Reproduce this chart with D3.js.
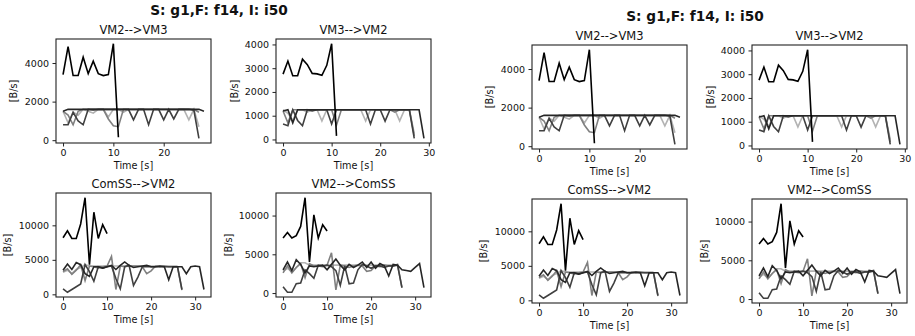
<!DOCTYPE html>
<html>
<head>
<meta charset="utf-8">
<script src="https://cdn.jsdelivr.net/npm/d3@7"></script>
<style>
  html, body { margin: 0; padding: 0; background: #fff; }
  svg text { font-family: "DejaVu Sans", sans-serif; fill: #111; }
</style>
</head>
<body>
<script>
const width = 915;
const height = 336;

const figTitle = "S: g1,F: f14, I: i50";
const panelTitles = ["VM2-->VM3", "VM3-->VM2", "ComSS-->VM2", "VM2-->ComSS"];

// values per second, index = time [s]
const vm2vm3A = [3400, 4850, 3350, 3350, 4300, 3450, 4100, 3450, 3350, 3400, 5000, 150];
const vm2vm3B = [1500, 1600, 1600, 1600, 1600, 1600, 1600, 1600, 1600, 1600, 1600, 1600, 1600, 1600, 1600, 1600, 1600, 1600, 1600, 1600, 1600, 1600, 1600, 1600, 1600, 1600, 1600, 1600, 1500];
const vm2vm3C = [800, 800, 1450, 1000, 800, 1600, 1600, 1600, 1600, 1600, 1600, 1600, 1600, 1600, 1050, 1600, 1600, 800, 1600, 1600, 1050, 1600, 1100, 1600, 1600, 1600, 1550, 100];
const vm2vm3D = [1500, 1300, 800, 1500, 1600, 1600, 1550, 1600, 1600, 1100, 750, 700, 1600, 1600, 1600, 1600, 1600, 1600, 1600, 1600, 1600, 1600, 1600, 1600, 1600, 1600, 1600, 1450];
const vm2vm3E = [1500, 900, 1450, 1300, 1600, 1500, 1400, 1600, 1600, 1200, 1600, 1600, 1450, 1600, 1600, 1600, 1600, 1600, 1600, 1600, 1600, 1600, 1600, 1600, 1600, 1050, 1600, 700];

const vm3vm2A = [2750, 3300, 2680, 2680, 3380, 3150, 2780, 2760, 2700, 3120, 4030, 150];
const vm3vm2B = [1200, 1250, 700, 1250, 1250, 1250, 1250, 1250, 1250, 1250, 1250, 1250, 1250, 1250, 1250, 1250, 1250, 1250, 1250, 1250, 1250, 1250, 1250, 1250, 1250, 1250, 1250, 1250, 1250, 50];
const vm3vm2C = [650, 580, 1250, 800, 580, 1250, 1200, 1250, 1250, 1250, 650, 1250, 1250, 1250, 1250, 1250, 1250, 1250, 650, 1250, 1250, 770, 1250, 1250, 1250, 1250, 1250, 50];
const vm3vm2D = [1200, 700, 1250, 1250, 1250, 1250, 1250, 1250, 1250, 1250, 1250, 600, 1250, 1250, 1250, 1250, 1250, 1250, 1250, 1250, 1250, 1250, 1250, 1150, 1250, 1250, 1250, 150];
const vm3vm2E = [1250, 1100, 800, 1250, 1250, 1150, 1250, 1250, 780, 1250, 1250, 1250, 1250, 1250, 1250, 1250, 1250, 780, 1250, 1250, 1250, 1250, 1250, 1250, 780, 1250, 1250, 250];

const comvm2A = [8200, 9200, 8100, 8100, 10200, 14000, 4300, 11900, 8100, 10100, 8800];
const comvm2B = [3500, 4400, 3600, 4600, 4300, 3000, 2600, 4000, 4000, 3800, 4000, 4200, 3600, 4200, 4700, 4200, 3900, 4000, 4100, 4200, 4000, 4000, 4100, 4000, 2100, 4000, 4000, 4000, 3000, 4000, 4100, 4000, 700];
const comvm2C = [800, 300, 700, 1100, 1500, 4300, 3300, 1900, 4000, 3800, 4000, 4100, 2300, 800, 4000, 4200, 1300, 2500, 4000, 4000, 4000, 4000, 4000, 4000, 4000, 4000, 4000, 700];
const comvm2D = [3300, 3700, 2900, 3500, 4300, 2000, 4100, 4000, 3800, 4000, 4100, 5500, 700, 4100, 4000, 4100, 4100, 4100, 4000, 3000, 3400, 4100, 4000, 4100, 4000, 4000, 4000, 600];
const comvm2E = [3200, 3500, 3000, 3600, 3900, 4300, 4100, 4100, 4100, 4100, 4100, 4100, 4100, 4100, 4100, 4100, 4100, 4100, 4100, 4100, 4100, 4100, 4100, 4100, 4100, 4100, 4100];

const vm2comA = [7100, 7800, 7100, 7400, 8600, 12300, 4000, 10100, 7100, 8800, 8000];
const vm2comB = [3000, 4000, 2900, 4300, 3700, 2600, 3500, 3400, 3500, 3600, 3000, 3700, 4400, 3600, 3000, 3700, 3300, 3600, 4000, 3300, 4000, 3200, 3800, 3500, 2200, 3700, 3600, 3000, 2900, 2800, 3300, 3800, 700];
const vm2comC = [800, 100, 100, 1200, 1300, 3000, 2500, 1900, 3600, 3500, 3600, 3400, 2900, 1000, 3500, 1200, 1300, 3000, 3700, 3500, 3200, 3500, 3500, 3300, 3500, 3500, 3600, 700];
const vm2comD = [2600, 3500, 2600, 3300, 3800, 2000, 3800, 3500, 3500, 3400, 3600, 5200, 400, 3600, 3500, 3300, 3500, 3600, 3500, 2800, 2900, 3500, 3400, 3600, 3500, 3500, 3700, 700];
const vm2comE = [2800, 3200, 2700, 3300, 3900, 3900, 3600, 3600, 3600, 3600, 3600, 3600, 3600, 3600, 3600, 3600, 3600, 3600, 3600, 3600, 3600, 3600, 3600, 3600, 3600, 3600, 3600];

const xTicksVM2VM3 = [0, 10, 20];
const xTicksOther = [0, 10, 20, 30];
const yTicksVM2VM3 = [0, 2000, 4000];
const yTicksVM3VM2 = [0, 1000, 2000, 3000, 4000];
const yTicksComSS = [0, 5000, 10000];

// light to dark, black drawn last
const seriesColors = ["#b3b3b3", "#808080", "#404040", "#262626", "#000000"];

const panels = [
  { title: panelTitles[0], series: [vm2vm3E, vm2vm3D, vm2vm3C, vm2vm3B, vm2vm3A], xTicks: xTicksVM2VM3, yTicks: yTicksVM2VM3 },
  { title: panelTitles[1], series: [vm3vm2E, vm3vm2D, vm3vm2C, vm3vm2B, vm3vm2A], xTicks: xTicksOther, yTicks: yTicksVM3VM2 },
  { title: panelTitles[2], series: [comvm2E, comvm2D, comvm2C, comvm2B, comvm2A], xTicks: xTicksOther, yTicks: yTicksComSS },
  { title: panelTitles[3], series: [vm2comE, vm2comD, vm2comC, vm2comB, vm2comA], xTicks: xTicksOther, yTicks: yTicksComSS },
];

// panel boxes in figure coordinates
const boxes = [
  { x: 56, y: 39, w: 155, h: 104, ylab: 42 },
  { x: 276, y: 39, w: 155, h: 104, ylab: 41 },
  { x: 56, y: 193, w: 155, h: 104, ylab: 48 },
  { x: 276, y: 193, w: 155, h: 104, ylab: 47 },
];

const svg = d3.select("body").append("svg")
  .attr("width", width)
  .attr("height", height);

// matplotlib style autoscale: 5% margin each side
function padded(lo, hi) {
  const r = hi - lo;
  return [lo - 0.05 * r, hi + 0.05 * r];
}

function drawFigure(fig) {
  fig.append("text")
    .attr("x", 219)
    .attr("y", 14.5)
    .attr("text-anchor", "middle")
    .style("font-size", "13.7px")
    .style("font-weight", "bold")
    .text(figTitle);

  panels.forEach((p, i) => {
    const b = boxes[i];
    const g = fig.append("g");
    const maxT = d3.max(p.series, (s) => s.length - 1);
    const allVals = p.series.flat();

    const x = d3.scaleLinear()
      .domain(padded(0, maxT))
      .range([b.x, b.x + b.w]);
    const y = d3.scaleLinear()
      .domain(padded(d3.min(allVals), d3.max(allVals)))
      .range([b.y + b.h, b.y]);

    const xAxis = d3.axisBottom(x).tickValues(p.xTicks).tickFormat(d3.format("d"))
      .tickSize(3.5).tickPadding(3).tickSizeOuter(0);
    const yAxis = d3.axisLeft(y).tickValues(p.yTicks).tickFormat(d3.format("d"))
      .tickSize(3.5).tickPadding(3.5).tickSizeOuter(0);

    const gx = g.append("g").attr("transform", `translate(0,${b.y + b.h})`).call(xAxis);
    const gy = g.append("g").attr("transform", `translate(${b.x},0)`).call(yAxis);
    [gx, gy].forEach((ax) => {
      ax.select(".domain").remove();
      ax.selectAll(".tick line").attr("stroke", "#222").attr("stroke-width", 1);
      ax.selectAll(".tick text")
        .style("font-family", "DejaVu Sans, sans-serif")
        .style("font-size", "9.5px")
        .attr("fill", "#111");
    });

    const line = d3.line()
      .x((d, j) => x(j))
      .y((d) => y(d));

    g.selectAll("path.series")
      .data(p.series)
      .join("path")
      .attr("class", "series")
      .attr("d", (d) => line(d))
      .attr("fill", "none")
      .attr("stroke", (d, j) => seriesColors[j])
      .attr("stroke-width", 1.6)
      .attr("stroke-linejoin", "miter");

    g.append("rect")
      .attr("x", b.x)
      .attr("y", b.y)
      .attr("width", b.w)
      .attr("height", b.h)
      .attr("fill", "none")
      .attr("stroke", "#222")
      .attr("stroke-width", 1.1);

    g.append("text")
      .attr("x", b.x + b.w / 2)
      .attr("y", b.y - 5)
      .attr("text-anchor", "middle")
      .style("font-size", "11.5px")
      .text(p.title);

    g.append("text")
      .attr("x", b.x + b.w / 2)
      .attr("y", b.y + b.h + 26)
      .attr("text-anchor", "middle")
      .style("font-size", "9.7px")
      .text("Time [s]");

    g.append("text")
      .attr("transform", `translate(${b.x - b.ylab},${b.y + b.h / 2}) rotate(-90)`)
      .attr("dy", "0.35em")
      .attr("text-anchor", "middle")
      .style("font-size", "9.7px")
      .text("[B/s]");
  });
}

// the image holds the same figure twice, side by side
drawFigure(svg.append("g").attr("transform", "translate(0,0)"));
drawFigure(svg.append("g").attr("transform", "translate(476,6)"));
</script>
</body>
</html>
